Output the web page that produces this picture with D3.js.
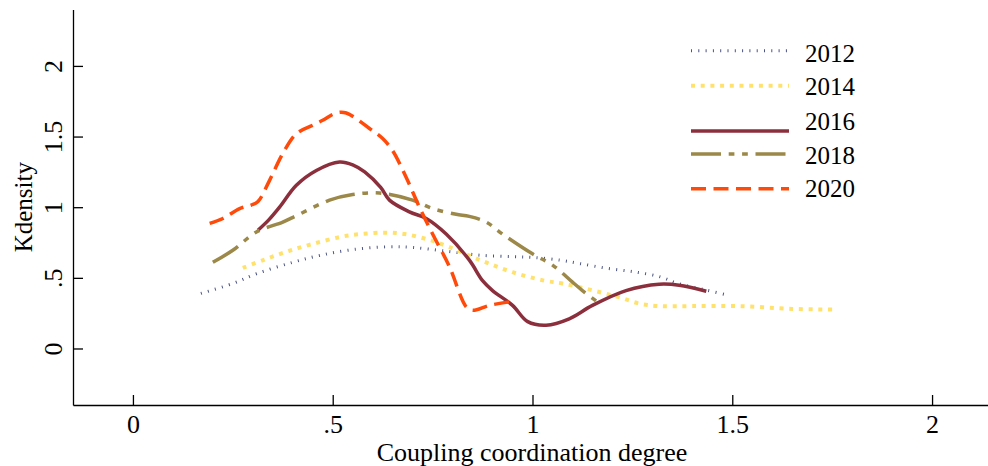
<!DOCTYPE html>
<html>
<head>
<meta charset="utf-8">
<script src="https://cdn.jsdelivr.net/npm/d3@7"></script>
<style>
  body { margin: 0; background: white; }
  svg { display: block; }
  text { font-family: "Liberation Serif", "Times New Roman", serif; fill: black; }
</style>
</head>
<body>
<svg id="canvas" width="988" height="466"></svg>
<script>
// ---- data ----
var years = ['2012', '2014', '2016', '2018', '2020'];

var x2012 = [0.17, 0.25, 0.31, 0.40, 0.47, 0.55, 0.64, 0.70, 0.78, 0.87, 0.95, 1.00, 1.07, 1.12, 1.19, 1.26, 1.32, 1.36, 1.435, 1.49];
var y2012 = [0.39, 0.46, 0.53, 0.61, 0.66, 0.70, 0.72, 0.715, 0.69, 0.66, 0.65, 0.645, 0.625, 0.60, 0.566, 0.54, 0.507, 0.464, 0.413, 0.377];

var x2014 = [0.275, 0.33, 0.39, 0.45, 0.52, 0.57, 0.63, 0.68, 0.74, 0.79, 0.87, 0.95, 1.03, 1.075, 1.167, 1.22, 1.267, 1.317, 1.40, 1.517, 1.65, 1.75];
var y2014 = [0.57, 0.63, 0.69, 0.74, 0.79, 0.81, 0.82, 0.81, 0.77, 0.72, 0.625, 0.54, 0.48, 0.46, 0.40, 0.36, 0.318, 0.30, 0.30, 0.30, 0.28, 0.276];

var x2016 = [0.313, 0.34, 0.367, 0.409, 0.459, 0.517, 0.55, 0.58, 0.62, 0.642, 0.692, 0.734, 0.784, 0.842, 0.875, 0.90, 0.95, 0.988, 1.034, 1.092, 1.15, 1.234, 1.317, 1.367, 1.435];
var y2016 = [0.837, 0.91, 1.00, 1.155, 1.26, 1.32, 1.30, 1.25, 1.14, 1.05, 0.967, 0.92, 0.81, 0.625, 0.48, 0.41, 0.305, 0.19, 0.165, 0.21, 0.305, 0.41, 0.455, 0.448, 0.405];

var x2018 = [0.2, 0.25, 0.309, 0.375, 0.409, 0.492, 0.55, 0.617, 0.70, 0.75, 0.809, 0.842, 0.884, 0.925, 1.0, 1.05, 1.10, 1.125, 1.159];
var y2018 = [0.61, 0.695, 0.825, 0.895, 0.94, 1.05, 1.09, 1.10, 1.05, 0.99, 0.95, 0.935, 0.895, 0.81, 0.67, 0.59, 0.47, 0.41, 0.337];

var x2020 = [0.192, 0.225, 0.267, 0.296, 0.313, 0.342, 0.375, 0.409, 0.45, 0.475, 0.509, 0.534, 0.592, 0.625, 0.65, 0.684, 0.717, 0.75, 0.792, 0.834, 0.85, 0.892, 0.942];
var y2020 = [0.885, 0.92, 0.99, 1.015, 1.04, 1.19, 1.38, 1.52, 1.58, 1.615, 1.667, 1.667, 1.557, 1.486, 1.40, 1.21, 1.0, 0.81, 0.58, 0.295, 0.27, 0.305, 0.33];

var xTicks = [0, 0.5, 1, 1.5, 2];
var yTicks = [0, 0.5, 1, 1.5, 2];

// ---- styles ----
var styles = {
  '2012': { color: '#4b5382', width: 3,   dash: '1 6.3' },
  '2014': { color: '#ffe26e', width: 4,   dash: '4 5.7' },
  '2016': { color: '#8c2f3d', width: 3.5, dash: null },
  '2018': { color: '#9c8848', width: 3.5, dash: '30 7.7 5.7 7.7 5.7 7.7' },
  '2020': { color: '#ff4a0a', width: 3.5, dash: '15 7.5' }
};
var legendLineY = [50.7, 85.7, 131, 154, 188.7];
var legendTextY = [61.7, 95, 130, 164, 197];

var svg = d3.select('#canvas');

var x = d3.scaleLinear().domain([-0.15, 2.14]).range([73, 988]);
var y = d3.scaleLinear().domain([-0.4, 2.4]).range([405, 9.4]);

function fmt(d){ return String(d).replace(/^0\./, '.'); }

// ---- curves ----
var series = {
  '2012': d3.zip(x2012, y2012),
  '2014': d3.zip(x2014, y2014),
  '2016': d3.zip(x2016, y2016),
  '2018': d3.zip(x2018, y2018),
  '2020': d3.zip(x2020, y2020)
};

var line = d3.line()
  .x(function(d){ return x(d[0]); })
  .y(function(d){ return y(d[1]); })
  .curve(d3.curveCatmullRom.alpha(0.5));

var plot_g = svg.append('g');
years.forEach(function(yr){
  var s = styles[yr];
  plot_g.append('path')
    .datum(series[yr])
    .attr('d', line)
    .attr('fill', 'none')
    .attr('stroke', s.color)
    .attr('stroke-width', s.width)
    .attr('stroke-dasharray', s.dash);
});

// ---- axes ----
var xAxis = svg.append('g')
  .attr('transform', 'translate(0,' + y.range()[0] + ')')
  .call(d3.axisBottom(x).tickValues(xTicks).tickSize(-10).tickSizeOuter(0).tickFormat(fmt));
xAxis.selectAll('text').attr('y', 28).attr('dy', null).style('font-size', '26px');

var yAxis = svg.append('g')
  .attr('transform', 'translate(' + x.range()[0] + ',0)')
  .call(d3.axisLeft(y).tickValues(yTicks).tickSize(-10).tickSizeOuter(0).tickFormat(fmt));
yAxis.selectAll('text')
  .attr('x', null).attr('dy', null)
  .attr('text-anchor', 'middle')
  .attr('transform', 'translate(-11,0) rotate(-90)')
  .style('font-size', '26px');

svg.selectAll('.domain, .tick line').attr('stroke', 'black').attr('stroke-width', 1.3);

// ---- titles ----
svg.append('text')
  .attr('x', 532).attr('y', 461)
  .attr('text-anchor', 'middle')
  .style('font-size', '26px')
  .text('Coupling coordination degree');

svg.append('text')
  .attr('transform', 'translate(32,' + y(1) + ') rotate(-90)')
  .attr('text-anchor', 'middle')
  .style('font-size', '25px')
  .text('Kdensity');

// ---- legend ----
var legend_g = svg.append('g');
years.forEach(function(yr, i){
  var s = styles[yr];
  legend_g.append('line')
    .attr('x1', 691).attr('x2', 789)
    .attr('y1', legendLineY[i]).attr('y2', legendLineY[i])
    .attr('stroke', s.color)
    .attr('stroke-width', s.width)
    .attr('stroke-dasharray', s.dash);
  legend_g.append('text')
    .attr('x', 805).attr('y', legendTextY[i])
    .style('font-size', '25px')
    .text(yr);
});
</script>
</body>
</html>
